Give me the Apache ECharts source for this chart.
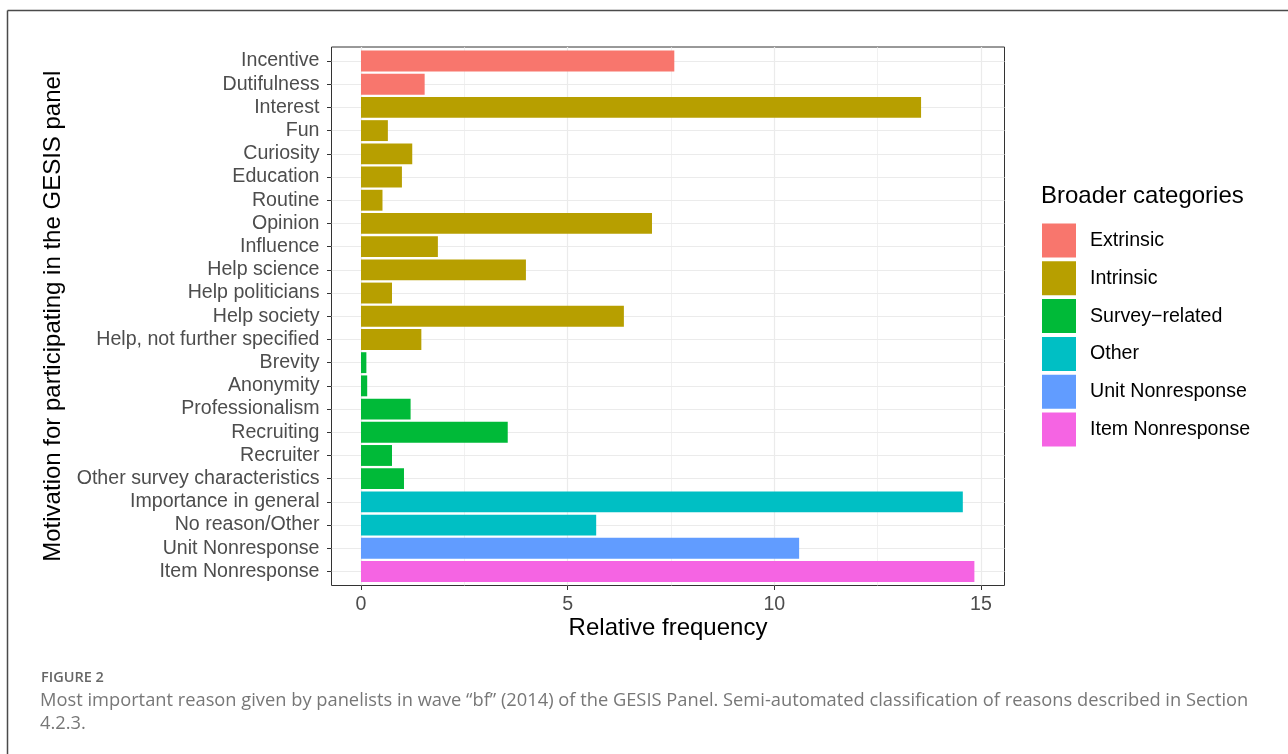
<!DOCTYPE html>
<html>
<head>
<meta charset="utf-8">
<script src="https://cdn.jsdelivr.net/npm/echarts@6/dist/echarts.min.js"></script>
<style>
html,body{margin:0;padding:0;background:#fff;}
#chart{width:1288px;height:754px;}
</style>
</head>
<body>
<div id="chart"></div>
<script>
const categories = ['Incentive','Dutifulness','Interest','Fun','Curiosity','Education','Routine','Opinion','Influence','Help science','Help politicians','Help society','Help, not further specified','Brevity','Anonymity','Professionalism','Recruiting','Recruiter','Other survey characteristics','Importance in general','No reason/Other','Unit Nonresponse','Item Nonresponse'];
const values = [7.58,1.54,13.55,0.65,1.24,0.99,0.52,7.04,1.86,3.99,0.75,6.36,1.46,0.13,0.15,1.20,3.55,0.75,1.04,14.56,5.69,10.6,14.84];
const groups = ['Extrinsic','Extrinsic','Intrinsic','Intrinsic','Intrinsic','Intrinsic','Intrinsic','Intrinsic','Intrinsic','Intrinsic','Intrinsic','Intrinsic','Intrinsic','Survey\u2212related','Survey\u2212related','Survey\u2212related','Survey\u2212related','Survey\u2212related','Survey\u2212related','Other','Other','Unit Nonresponse','Item Nonresponse'];
const groupNames = ['Extrinsic','Intrinsic','Survey\u2212related','Other','Unit Nonresponse','Item Nonresponse'];
const groupColors = ['#F8766D','#B79F00','#00BA38','#00BFC4','#619CFF','#F564E3'];
const xTicks = [0, 15, 5];   // min, max, interval of the value axis
const xTitle = 'Relative frequency';
const yTitle = 'Motivation for participating in the GESIS panel';
const legendTitle = 'Broader categories';
const captionLabel = 'FIGURE 2';
const captionLines = ['Most important reason given by panelists in wave \u201cbf\u201d (2014) of the GESIS Panel. Semi-automated classification of reasons described in Section','4.2.3.'];

const FONT = "'Liberation Sans', Arial, Helvetica, sans-serif";
const CAPFONT = "'Open Sans', sans-serif";
const chart = echarts.init(document.getElementById('chart'), null, {renderer:'canvas'});

const series = groupNames.map((g, k) => ({
  type: 'bar',
  name: g,
  stack: 'all',
  xAxisIndex: 3,
  yAxisIndex: 3,
  barWidth: '90%',
  itemStyle: {color: groupColors[k]},
  data: values.map((v, i) => groups[i] === g ? v : '-')
}));

const PL = 331.5, PT = 47, PW = 673, PH = 538.5;
const X0 = 361, XW = 620;
const bandTop = 61, bandBottom = 571.5;
const step = (bandBottom - bandTop) / (categories.length - 1);

const hidden = {axisLine:{show:false}, axisTick:{show:false}, axisLabel:{show:false}, splitLine:{show:false}};

chart.setOption({
  animation: false,
  backgroundColor: '#fff',
  title: [
    {text: legendTitle, left: 1041, top: 184, textStyle:{fontFamily: FONT, fontSize: 24, fontWeight: 'normal', color:'#000'}, padding: 0},
    {text: captionLabel, left: 41, top: 670, textStyle:{fontFamily: CAPFONT, fontSize: 14.5, fontWeight: 600, color:'#666666'}, padding: 0},
    {text: captionLines[0], left: 40, top: 692, textStyle:{fontFamily: CAPFONT, fontSize: 18.3, fontWeight: 'normal', color:'#777777'}, padding: 0},
    {text: captionLines[1], left: 40, top: 715, textStyle:{fontFamily: CAPFONT, fontSize: 18.3, fontWeight: 'normal', color:'#777777'}, padding: 0}
  ],
  legend: {
    orient: 'vertical',
    left: 1042, top: 223.5,
    itemWidth: 34, itemHeight: 34, itemGap: 3.8,
    icon: 'rect',
    padding: 0,
    textStyle: {fontFamily: FONT, fontSize: 19.6, color: '#000', padding: [0,0,0,9]},
    data: groupNames
  },
  grid: [
    {left: PL, top: PT, width: PW, height: PH, show: true, borderColor: '#333333', borderWidth: 1, backgroundColor: 'transparent'},
    {left: PL, top: bandTop, width: PW, height: bandBottom - bandTop},
    {left: X0, top: PT, width: XW, height: PH},
    {left: X0, top: bandTop - step/2, width: XW, height: bandBottom - bandTop + step}
  ],
  xAxis: [
    Object.assign({gridIndex: 0, type: 'value', min: 0, max: 1,
      name: xTitle, nameLocation: 'middle', nameGap: 31,
      nameTextStyle: {fontFamily: FONT, fontSize: 24, color: '#000'}}, hidden),
    Object.assign({gridIndex: 1, type: 'value', min: 0, max: 1}, hidden),
    {gridIndex: 2, type: 'value', min: xTicks[0], max: xTicks[1], interval: xTicks[2],
      axisLine: {show: false},
      axisTick: {show: true, length: 4.5, lineStyle: {color: '#333333', width: 1}},
      axisLabel: {show: true, margin: 9, fontFamily: FONT, fontSize: 19.6, color: '#4d4d4d'},
      splitLine: {show: true, lineStyle: {color: '#ebebeb', width: 1.2}},
      minorTick: {show: false, splitNumber: 2},
      minorSplitLine: {show: true, lineStyle: {color: '#ebebeb', width: 0.7}}
    },
    Object.assign({gridIndex: 3, type: 'value', min: xTicks[0], max: xTicks[1]}, hidden)
  ],
  yAxis: [
    Object.assign({gridIndex: 0, type: 'value', min: 0, max: 1}, hidden),
    {gridIndex: 1, type: 'category', data: categories, inverse: true, boundaryGap: false,
      axisLine: {show: false},
      axisTick: {show: true, length: 4.5, lineStyle: {color: '#333333', width: 1}},
      axisLabel: {show: true, margin: 12, fontFamily: FONT, fontSize: 19.6, color: '#4d4d4d', interval: 0},
      splitLine: {show: true, interval: 0, lineStyle: {color: '#ebebeb', width: 1.2}},
      name: yTitle, nameLocation: 'middle', nameGap: 262,
      nameTextStyle: {fontFamily: FONT, fontSize: 24, color: '#000'}
    },
    Object.assign({gridIndex: 2, type: 'value', min: 0, max: 1}, hidden),
    Object.assign({gridIndex: 3, type: 'category', data: categories, inverse: true}, hidden)
  ],
  graphic: [
    {type: 'line', shape: {x1: 7.5, y1: 10.5, x2: 1288, y2: 10.5}, style: {stroke: '#4a4a4a', lineWidth: 1.5}, silent: true},
    {type: 'line', shape: {x1: 7.5, y1: 10.5, x2: 7.5, y2: 754}, style: {stroke: '#4a4a4a', lineWidth: 1.5}, silent: true}
  ],
  series: series
});
</script>
</body>
</html>
